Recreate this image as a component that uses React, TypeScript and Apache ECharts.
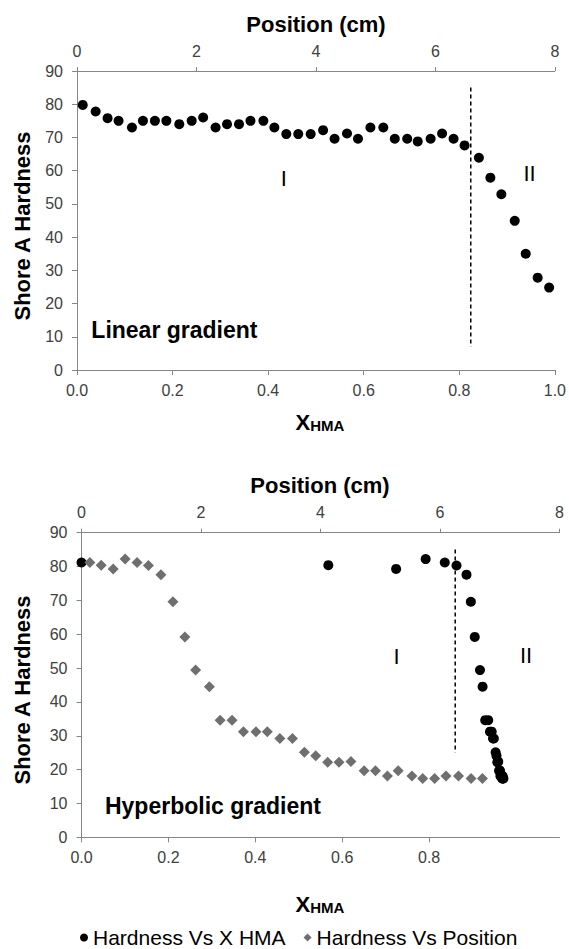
import React, { useEffect, useRef } from 'react';
import * as echarts from 'echarts';

// ---- Top chart (linear gradient): hardness vs X_HMA ----
const TOP_X = [0.012, 0.039, 0.064, 0.087, 0.115, 0.138, 0.163, 0.187, 0.214, 0.24, 0.264, 0.29, 0.314, 0.339, 0.363, 0.39, 0.413, 0.438, 0.463, 0.489, 0.515, 0.539, 0.565, 0.588, 0.614, 0.641, 0.665, 0.691, 0.713, 0.74, 0.764, 0.788, 0.811, 0.841, 0.865, 0.888, 0.916, 0.939, 0.964, 0.988];
const TOP_HARDNESS = [79.8, 77.8, 75.8, 75, 73, 75, 75, 75, 74, 75, 76, 73, 74, 74, 75, 75, 73, 71, 71, 71, 72.2, 69.6, 71.2, 69.6, 73, 73, 69.6, 69.6, 68.8, 69.6, 71.2, 69.6, 67.6, 63.9, 57.9, 52.9, 44.9, 35, 27.8, 24.8];
const TOP_DIVIDER = [[0.824, 85], [0.824, 7]];

// ---- Bottom chart (hyperbolic gradient) ----
const BOT_HARDNESS = [81.2, 80.4, 79.3, 82.2, 81.2, 80.3, 77.6, 69.6, 59.2, 49.4, 44.5, 34.6, 34.6, 31.2, 31.2, 31.2, 29.2, 29.2, 25.1, 24.1, 22.2, 22.2, 22.4, 19.7, 19.7, 18.1, 19.7, 18.1, 17.4, 17.4, 18.1, 18.1, 17.4, 17.4];
const BOT_X = [0.0, 0.568, 0.724, 0.792, 0.836, 0.863, 0.886, 0.896, 0.905, 0.917, 0.923, 0.929, 0.936, 0.94, 0.942, 0.944, 0.947, 0.949, 0.953, 0.955, 0.957, 0.958, 0.959, 0.961, 0.962, 0.964, 0.963, 0.966, 0.968, 0.969, 0.968, 0.969, 0.97, 0.971];
const BOT_POSITION = [0.14, 0.33, 0.53, 0.73, 0.93, 1.12, 1.33, 1.53, 1.73, 1.91, 2.14, 2.32, 2.52, 2.71, 2.92, 3.11, 3.32, 3.53, 3.73, 3.92, 4.12, 4.31, 4.51, 4.73, 4.92, 5.12, 5.3, 5.53, 5.71, 5.91, 6.1, 6.31, 6.52, 6.71];
const BOT_DIVIDER = [[0.86, 85], [0.86, 25]];

const X_TICKS = [0, 0.2, 0.4, 0.6, 0.8, 1.0];
const SERIES_X = 'Hardness Vs X HMA';
const SERIES_POS = 'Hardness Vs Position';

const AXIS_GRAY = '#868686';
const LABEL_GRAY = '#404040';
const FONT = '"Liberation Sans", Arial, sans-serif';

const labelStyle = (formatter: (v: number) => string, extra: any = {}) => ({
  show: true,
  margin: 12,
  fontSize: 16,
  color: LABEL_GRAY,
  fontFamily: FONT,
  formatter,
  ...extra,
});

const xAxisBase = (gridIndex: number, position: string, min: number, max: number, interval: number, fmt: (v: number) => string, tickLen: number, extraLabel: any = {}, extraTick: any = {}) => ({
  gridIndex,
  type: 'value',
  position,
  min,
  max,
  interval,
  axisLine: { show: true, onZero: false, lineStyle: { color: AXIS_GRAY, width: 1 } },
  axisTick: { show: true, length: tickLen, lineStyle: { color: AXIS_GRAY }, ...extraTick },
  splitLine: { show: false },
  axisLabel: labelStyle(fmt, extraLabel),
});

const yAxisBase = (gridIndex: number) => ({
  gridIndex,
  type: 'value',
  min: 0,
  max: 90,
  interval: 10,
  axisLine: { show: true, onZero: false, lineStyle: { color: AXIS_GRAY, width: 1 } },
  axisTick: { show: true, length: 5, lineStyle: { color: AXIS_GRAY } },
  splitLine: { show: false },
  axisLabel: labelStyle((v: number) => String(v), { margin: 14 }),
});

const noteSeries = (xAxisIndex: number, yAxisIndex: number, items: any[]) => ({
  type: 'scatter',
  xAxisIndex,
  yAxisIndex,
  symbolSize: 0,
  silent: true,
  itemStyle: { opacity: 1, color: '#000' },
  data: items,
  label: { show: true, position: 'inside', formatter: '{b}', color: '#000' },
});

const romanLabel = { fontSize: 22, fontFamily: FONT, color: '#000' };
const noteLabel = { align: 'left', fontSize: 23, fontWeight: 'bold', fontFamily: FONT, color: '#000' };

const titleText = (text: string, x: number, y: number, rotation = 0) => ({
  type: 'text',
  x,
  y,
  rotation,
  silent: true,
  style: {
    text,
    fontSize: 22,
    fontWeight: 'bold',
    fontFamily: FONT,
    fill: '#000',
    align: 'center',
    verticalAlign: 'middle',
  },
});

const chiTitle = (x: number, y: number) => ({
  type: 'text',
  x,
  y,
  silent: true,
  style: {
    text: '{a|X}{b|HMA}',
    align: 'center',
    verticalAlign: 'middle',
    fill: '#000',
    rich: {
      a: { fontSize: 22, fontWeight: 'bold', fontFamily: FONT, verticalAlign: 'bottom', lineHeight: 24 },
      b: { fontSize: 15, fontWeight: 'bold', fontFamily: FONT, verticalAlign: 'bottom', lineHeight: 24 },
    },
  },
});

export default function App() {
  const ref = useRef<HTMLDivElement>(null);

  useEffect(() => {
    if (!ref.current) return;
    const chart = echarts.init(ref.current, null, { renderer: 'svg' });
    const fmt1 = (v: number) => v.toFixed(1);
    const fmt0 = (v: number) => String(Math.round(v));

    chart.setOption({
      animation: false,
      backgroundColor: '#fff',
      grid: [
        { left: 77, right: 14, top: 71, height: 299 },
        { left: 81.5, right: 9.5, top: 532.7, height: 304.6 },
      ],
      xAxis: [
        xAxisBase(0, 'bottom', 0, 1, 0.2, fmt1, 5),
        xAxisBase(0, 'top', 0, 8, 2, fmt0, 4),
        xAxisBase(1, 'bottom', 0, 1.1, 0.2, (v: number) => (v > 1.05 ? '' : v.toFixed(1)), 5,
          { customValues: X_TICKS, showMaxLabel: false }, { customValues: X_TICKS }),
        xAxisBase(1, 'top', 0, 8, 2, fmt0, 4),
      ],
      yAxis: [yAxisBase(0), yAxisBase(1)],
      legend: {
        left: 80,
        top: 927,
        padding: 0,
        itemWidth: 8,
        itemHeight: 8,
        itemGap: 18,
        textStyle: { fontSize: 21, fontFamily: FONT, color: '#000' },
        data: [
          { name: SERIES_X, icon: 'circle' },
          { name: SERIES_POS, icon: 'diamond' },
        ],
      },
      graphic: [
        titleText('Position (cm)', 316, 24),
        titleText('Shore A Hardness', 22.5, 226, Math.PI / 2),
        chiTitle(320, 421),
        titleText('Position (cm)', 320, 485),
        titleText('Shore A Hardness', 22.5, 690, Math.PI / 2),
        chiTitle(320, 903),
      ],
      series: [
        {
          type: 'scatter',
          name: 'Linear gradient',
          xAxisIndex: 0,
          yAxisIndex: 0,
          symbol: 'circle',
          symbolSize: 10,
          itemStyle: { color: '#000', opacity: 1 },
          data: TOP_X.map((x, i) => [x, TOP_HARDNESS[i]]),
        },
        {
          type: 'line',
          xAxisIndex: 0,
          yAxisIndex: 0,
          symbol: 'none',
          silent: true,
          lineStyle: { color: '#000', width: 1.5, type: [4, 3] },
          data: TOP_DIVIDER,
        },
        noteSeries(0, 0, [
          { name: 'I', value: [0.433, 57.5], label: romanLabel },
          { name: 'II', value: [0.947, 59], label: romanLabel },
          { name: 'Linear gradient', value: [0.03, 12], label: noteLabel },
        ]),
        {
          type: 'scatter',
          name: SERIES_X,
          xAxisIndex: 2,
          yAxisIndex: 1,
          symbol: 'circle',
          symbolSize: 10,
          itemStyle: { color: '#000', opacity: 1 },
          data: BOT_X.map((x, i) => [x, BOT_HARDNESS[i]]),
        },
        {
          type: 'scatter',
          name: SERIES_POS,
          xAxisIndex: 3,
          yAxisIndex: 1,
          symbol: 'diamond',
          symbolSize: 11,
          itemStyle: { color: '#6f6f6f', opacity: 1 },
          data: BOT_POSITION.map((p, i) => [p, BOT_HARDNESS[i]]),
        },
        {
          type: 'line',
          xAxisIndex: 2,
          yAxisIndex: 1,
          symbol: 'none',
          silent: true,
          lineStyle: { color: '#000', width: 1.5, type: [4, 3] },
          data: BOT_DIVIDER,
        },
        noteSeries(2, 1, [
          { name: 'I', value: [0.725, 53.4], label: romanLabel },
          { name: 'II', value: [1.023, 53.6], label: romanLabel },
          { name: 'Hyperbolic gradient', value: [0.054, 9.2], label: noteLabel },
        ]),
      ],
    });

    return () => chart.dispose();
  }, []);

  return <div ref={ref} style={{ position: 'absolute', left: 0, top: 0, width: 569, height: 949 }} />;
}
